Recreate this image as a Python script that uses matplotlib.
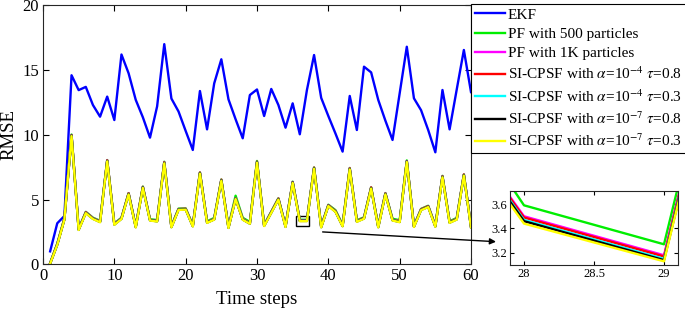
import numpy as np
import matplotlib
matplotlib.use('Agg')
import matplotlib.pyplot as plt
from matplotlib.patches import Rectangle

plt.rcParams['font.family'] = ['Liberation Serif', 'DejaVu Serif']
plt.rcParams['mathtext.fontset'] = 'stix'

t = np.arange(1, 61)

ekf = [1.00, 3.17, 3.73, 14.60, 13.45, 13.70, 12.30, 11.40, 12.95, 11.14,
       16.20, 14.75, 12.70, 11.35, 9.78, 12.20, 17.00, 12.80, 11.80, 10.30,
       8.83, 13.38, 10.42, 13.97, 15.83, 12.74, 11.20, 9.73, 13.07, 13.50,
       11.45, 13.54, 12.30, 10.55, 12.43, 10.04, 13.46, 16.16, 12.85, 11.45,
       10.10, 8.70, 13.00, 10.37, 15.26, 14.82, 12.69, 11.09, 9.60, 13.20,
       16.80, 12.82, 11.90, 10.37, 8.65, 13.46, 10.42, 13.50, 16.55, 13.30]

pf500 = [0.10, 1.60, 3.56, 10.02, 2.76, 4.05, 3.60, 3.36, 8.05, 3.15,
         3.60, 5.50, 2.95, 6.00, 3.48, 3.42, 7.92, 2.96, 4.30, 4.32,
         3.03, 7.10, 3.32, 3.58, 6.55, 2.92, 5.30, 3.59, 3.27, 7.98,
         3.06, 4.07, 5.10, 2.99, 6.38, 3.44, 3.44, 7.48, 2.96, 4.60,
         4.18, 3.06, 7.44, 3.40, 3.63, 5.95, 2.96, 5.50, 3.52, 3.40,
         8.02, 2.99, 4.28, 4.52, 3.01, 6.83, 3.32, 3.58, 6.95, 2.96]

pf1k = [0.07, 1.56, 3.51, 9.97, 2.71, 4.01, 3.56, 3.31, 8.02, 3.11,
        3.56, 5.47, 2.91, 5.97, 3.44, 3.36, 7.87, 2.91, 4.26, 4.28,
        2.98, 7.07, 3.26, 3.51, 6.52, 2.86, 5.10, 3.50, 3.18, 7.91,
        3.01, 4.03, 5.07, 2.94, 6.35, 3.39, 3.39, 7.45, 2.91, 4.56,
        4.11, 2.99, 7.40, 3.34, 3.58, 5.92, 2.91, 5.47, 3.44, 3.31,
        7.97, 2.94, 4.24, 4.48, 2.96, 6.79, 3.26, 3.51, 6.92, 2.91]

si_4_08 = [0.07, 1.55, 3.50, 9.98, 2.70, 4.02, 3.55, 3.30, 8.03, 3.10,
           3.55, 5.48, 2.90, 5.98, 3.43, 3.36, 7.88, 2.90, 4.26, 4.28,
           2.97, 7.08, 3.25, 3.50, 6.53, 2.85, 5.09, 3.49, 3.17, 7.92,
           3.00, 4.03, 5.07, 2.93, 6.35, 3.38, 3.38, 7.46, 2.90, 4.56,
           4.11, 2.98, 7.41, 3.34, 3.58, 5.93, 2.90, 5.47, 3.43, 3.31,
           7.97, 2.93, 4.25, 4.49, 2.95, 6.80, 3.26, 3.51, 6.93, 2.90]

si_4_03 = [0.06, 1.53, 3.48, 9.94, 2.68, 3.98, 3.53, 3.28, 7.99, 3.08,
           3.53, 5.44, 2.88, 5.94, 3.41, 3.33, 7.84, 2.88, 4.23, 4.25,
           2.95, 7.04, 3.23, 3.48, 6.49, 2.83, 5.07, 3.47, 3.15, 7.89,
           2.98, 4.00, 5.04, 2.91, 6.32, 3.36, 3.36, 7.42, 2.88, 4.53,
           4.08, 2.96, 7.37, 3.31, 3.55, 5.89, 2.88, 5.44, 3.41, 3.28,
           7.94, 2.91, 4.21, 4.45, 2.93, 6.76, 3.23, 3.48, 6.89, 2.88]

si_7_08 = [0.06, 1.52, 3.47, 9.93, 2.67, 3.97, 3.52, 3.27, 7.98, 3.07,
           3.52, 5.43, 2.87, 5.93, 3.40, 3.32, 7.83, 2.87, 4.22, 4.24,
           2.94, 7.03, 3.22, 3.47, 6.48, 2.82, 5.06, 3.46, 3.14, 7.88,
           2.97, 3.99, 5.03, 2.90, 6.31, 3.35, 3.35, 7.41, 2.87, 4.52,
           4.07, 2.95, 7.36, 3.30, 3.54, 5.88, 2.87, 5.43, 3.40, 3.27,
           7.93, 2.90, 4.20, 4.44, 2.92, 6.75, 3.22, 3.47, 6.88, 2.87]

si_7_03 = [0.05, 1.50, 3.45, 9.90, 2.65, 3.95, 3.50, 3.25, 7.95, 3.05,
           3.50, 5.40, 2.85, 5.90, 3.38, 3.30, 7.80, 2.85, 4.20, 4.22,
           2.92, 7.00, 3.20, 3.45, 6.45, 2.80, 5.04, 3.44, 3.13, 7.85,
           2.95, 3.97, 5.00, 2.88, 6.28, 3.33, 3.33, 7.38, 2.85, 4.50,
           4.05, 2.93, 7.33, 3.28, 3.52, 5.85, 2.85, 5.40, 3.38, 3.25,
           7.90, 2.88, 4.18, 4.42, 2.90, 6.72, 3.20, 3.45, 6.85, 2.85]

series = [
    (ekf, '#0000ff', 'EKF'),
    (pf500, '#00ee00', 'PF with 500 particles'),
    (pf1k, '#ff00ff', 'PF with 1K particles'),
    (si_4_08, '#ff0000', r'SI-CPSF with $\alpha$=10$^{-4}$ $\tau$=0.8'),
    (si_4_03, '#00ffff', r'SI-CPSF with $\alpha$=10$^{-4}$ $\tau$=0.3'),
    (si_7_08, '#000000', r'SI-CPSF with $\alpha$=10$^{-7}$ $\tau$=0.8'),
    (si_7_03, '#ffff00', r'SI-CPSF with $\alpha$=10$^{-7}$ $\tau$=0.3'),
]

fig = plt.figure(figsize=(6.85, 3.12), dpi=100)
ax = fig.add_axes([43 / 685, 1 - 264.3 / 312, 428 / 685, 259 / 312])

for y, c, lab in series:
    ax.plot(t, y, color=c, lw=1.7, label=lab)

ax.set_xlim(0, 60)
ax.set_ylim(0, 20)
ax.set_xticks([0, 10, 20, 30, 40, 50, 60])
ax.set_yticks([0, 5, 10, 15, 20])
ax.tick_params(direction='in', top=True, right=True, length=4, width=0.8,
               labelsize=12, pad=3)
ax.set_xlabel('Time steps', fontsize=13.5, labelpad=5)
ax.set_ylabel('RMSE', fontsize=13.5, labelpad=3)
for s in ax.spines.values():
    s.set_linewidth(0.8)
    s.set_color('#262626')

# zoom box and arrow
ax.add_patch(Rectangle((35.5, 2.98), 1.8, 0.77, fill=False, ec='k', lw=1))
ax.annotate('', xy=(496 / 685, 1 - 241.7 / 312), xycoords='figure fraction',
            xytext=(39.2, 2.5), textcoords='data',
            arrowprops=dict(arrowstyle='-|>', color='k', lw=1,
                            mutation_scale=9, shrinkA=0, shrinkB=0),
            annotation_clip=False)

leg = ax.legend(loc='upper left', bbox_to_anchor=(471 / 685, 1 - 4 / 312),
                bbox_transform=fig.transFigure, borderaxespad=0, fontsize=11,
                handlelength=2.0, handletextpad=0.15, borderpad=0.25,
                labelspacing=0.37, fancybox=False, framealpha=1,
                edgecolor='k')
leg.get_frame().set_linewidth(0.8)

# inset
axi = fig.add_axes([510 / 685, 1 - 265 / 312, 168 / 685, 74.3 / 312])
for y, c, lab in series[1:]:
    axi.plot(t, y, color=c, lw=1.7)
axi.set_xlim(27.9, 29.1)
axi.set_ylim(3.1, 3.71)
axi.set_xticks([28, 28.5, 29])
axi.set_xticklabels(['28', '28.5', '29'])
axi.set_yticks([3.2, 3.4, 3.6])
axi.tick_params(direction='in', top=True, right=True, length=3, width=0.8,
                labelsize=9, pad=2)
for s in axi.spines.values():
    s.set_linewidth(0.8)
    s.set_color('#262626')

fig.savefig('out.png', dpi=100)
